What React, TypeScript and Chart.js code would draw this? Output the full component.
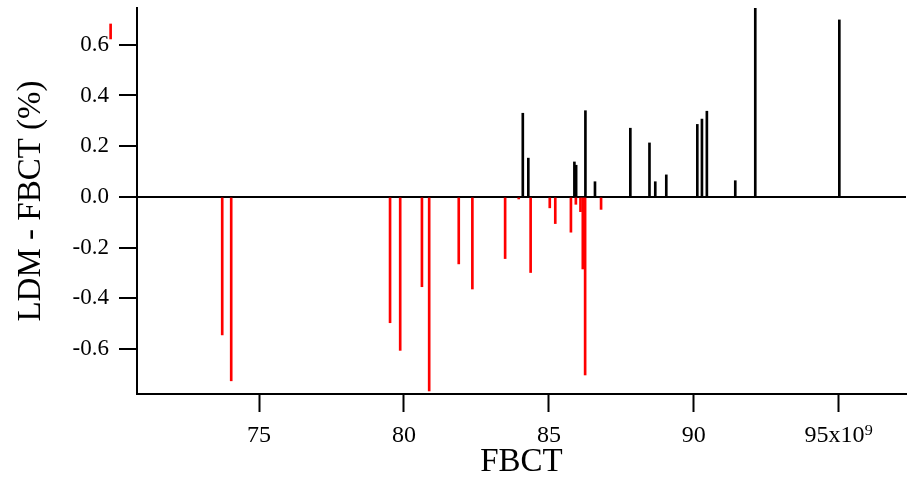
import React, { useEffect, useRef } from 'react';
import { Chart, registerables } from 'chart.js';

Chart.register(...registerables);

// x values in units of 10^9 (FBCT), y values in %
const negX = [73.73, 74.04, 79.52, 79.87, 80.62, 80.87, 81.89, 82.36, 83.49, 83.96, 84.37, 85.03, 85.22, 85.76, 85.93, 86.09, 86.17, 86.25, 86.8];
const negY = [-0.544, -0.725, -0.496, -0.605, -0.354, -0.765, -0.264, -0.363, -0.243, -0.008, -0.298, -0.043, -0.105, -0.139, -0.029, -0.058, -0.284, -0.702, -0.049];

const posX = [84.1, 84.29, 85.88, 85.94, 86.26, 86.59, 87.81, 88.47, 88.67, 89.05, 90.12, 90.28, 90.45, 91.43, 92.12, 95.02];
const posY = [0.33, 0.153, 0.138, 0.125, 0.34, 0.06, 0.271, 0.213, 0.06, 0.087, 0.286, 0.307, 0.338, 0.064, 0.76, 0.698];

// small stray red mark outside the plot area (top-left)
const strayX = [69.88];
const strayLow = [0.623];
const strayHigh = [0.682];

const xTickLabels: Record<number, string> = { 75: '75', 80: '80', 85: '85', 90: '90', 95: '95x10\u2079' };

const X_MIN = 70.79;
const X_MAX = 97.32;
const Y_MIN = -0.777;
const Y_MAX = 0.745;

export default function App() {
  const ref = useRef<HTMLCanvasElement>(null);

  useEffect(() => {
    if (!ref.current) return;
    Chart.defaults.font.family = "'Liberation Serif', 'Times New Roman', serif";
    Chart.defaults.color = '#000';
    const chart = new Chart(ref.current, {
      type: 'bar',
      data: {
        datasets: [
          {
            data: negX.map((x, i) => ({ x, y: negY[i] })),
            backgroundColor: '#ff0000',
            borderWidth: 0,
            barThickness: 2,
            grouped: false,
          } as any,
          {
            data: posX.map((x, i) => ({ x, y: posY[i] })),
            backgroundColor: '#000000',
            borderWidth: 0,
            barThickness: 2,
            grouped: false,
          } as any,
          {
            data: strayX.map((x, i) => ({ x, y: [strayLow[i], strayHigh[i]] })),
            backgroundColor: '#ff0000',
            borderWidth: 0,
            barThickness: 2,
            grouped: false,
            clip: false,
          } as any,
        ],
      },
      options: {
        responsive: false,
        animation: false,
        layout: { padding: { left: 0, top: 8, right: 6, bottom: 0 } },
        plugins: { legend: { display: false }, tooltip: { enabled: false } },
        scales: {
          x: {
            type: 'linear',
            min: X_MIN,
            max: X_MAX,
            offset: false,
            afterFit: (s: any) => {
              s.height = 85;
              s.paddingLeft = 0;
              s.paddingRight = 0;
            },
            border: { display: true, color: '#000', width: 2 },
            grid: {
              offset: false,
              drawOnChartArea: false,
              drawTicks: true,
              tickLength: 18,
              tickColor: '#000',
              tickWidth: 2,
              color: '#000',
            },
            ticks: {
              stepSize: 5,
              includeBounds: false,
              autoSkip: false,
              maxRotation: 0,
              padding: 9,
              color: '#000',
              font: { size: 24 },
              callback: (v: any) => xTickLabels[Number(v)] ?? String(v),
            } as any,
            title: {
              display: true,
              text: 'FBCT',
              color: '#000',
              font: { size: 33, lineHeight: 1 },
              padding: { top: 0, bottom: 0 },
            },
          },
          y: {
            type: 'linear',
            min: Y_MIN,
            max: Y_MAX,
            afterFit: (s: any) => {
              s.width = 137;
              s.paddingTop = 0;
              s.paddingBottom = 0;
            },
            border: { display: true, color: '#000', width: 2 },
            grid: {
              drawOnChartArea: true,
              drawTicks: true,
              tickLength: 18,
              tickColor: '#000',
              tickWidth: 2,
              lineWidth: 2,
              color: (ctx: any) => (ctx.tick && Math.abs(ctx.tick.value) < 1e-9 ? '#000' : 'rgba(0,0,0,0)'),
            },
            ticks: {
              stepSize: 0.2,
              includeBounds: false,
              padding: 10,
              color: '#000',
              font: { size: 23 },
              callback: (v: any) => Number(v).toFixed(1),
            } as any,
            title: {
              display: true,
              text: 'LDM - FBCT (%)',
              color: '#000',
              font: { size: 33, lineHeight: 1 },
              padding: { top: 15, bottom: 0 },
            },
          },
        },
      } as any,
    });
    return () => chart.destroy();
  }, []);

  return (
    <div style={{ position: 'fixed', left: 0, top: 0, width: 912, height: 479, background: '#fff' }}>
      <canvas ref={ref} width={912} height={479} style={{ width: 912, height: 479, display: 'block' }} />
    </div>
  );
}
